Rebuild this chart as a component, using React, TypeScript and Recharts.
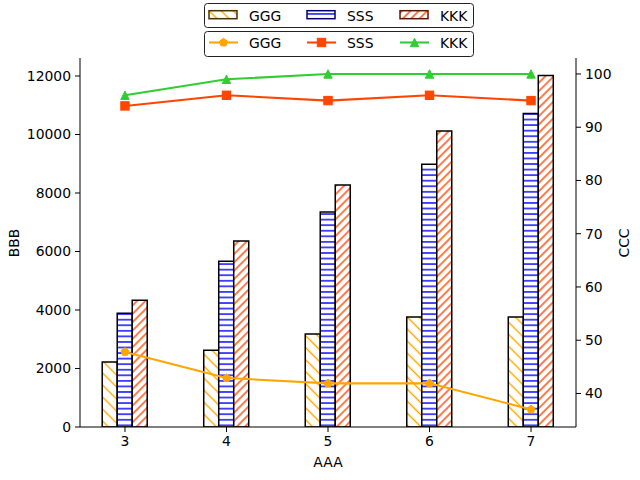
import React from "react";
import { ComposedChart, Bar, Line, XAxis, YAxis } from "recharts";

const categories = [3, 4, 5, 6, 7];
const seriesNames = ["GGG", "SSS", "KKK"];
const gggBars = [2220, 2620, 3180, 3760, 3760];
const sssBars = [3890, 5670, 7350, 8980, 10720];
const kkkBars = [4330, 6360, 8270, 10120, 12020];
const gggLine = [47.8, 42.9, 41.9, 41.9, 37.0];
const sssLine = [94, 96, 95, 96, 95];
const kkkLine = [96, 99, 100, 100, 100];
const leftTicks = [0, 2000, 4000, 6000, 8000, 10000, 12000];
const rightTicks = [40, 50, 60, 70, 80, 90, 100];

const data = categories.map((x, i) => ({
  x,
  gggBar: gggBars[i],
  sssBar: sssBars[i],
  kkkBar: kkkBars[i],
  gggLine: gggLine[i],
  sssLine: sssLine[i],
  kkkLine: kkkLine[i],
}));

const FONT = "DejaVu Sans";
const FS = 13.9;
const tickStyle = { fill: "#000", fontSize: FS, fontFamily: FONT };

const lineColors = ["#ffa500", "#ff4500", "#32cd32"];
const hatchIds = ["hatch-ggg", "hatch-sss", "hatch-kkk"];

function marker(kind: string, cx: number, cy: number, color: string, key?: any) {
  const r = 4.2;
  if (kind === "pentagon") {
    const pts = [0, 1, 2, 3, 4]
      .map((k) => {
        const a = ((-90 + 72 * k) * Math.PI) / 180;
        return `${cx + r * Math.cos(a)},${cy + r * Math.sin(a)}`;
      })
      .join(" ");
    return <polygon key={key} points={pts} fill={color} stroke={color} strokeWidth={1} />;
  }
  if (kind === "square") {
    return (
      <rect key={key} x={cx - r} y={cy - r} width={2 * r} height={2 * r} fill={color} stroke={color} strokeWidth={1} />
    );
  }
  return (
    <polygon
      key={key}
      points={`${cx},${cy - r} ${cx - r},${cy + r} ${cx + r},${cy + r}`}
      fill={color}
      stroke={color}
      strokeWidth={1}
    />
  );
}

const markerKinds = ["pentagon", "square", "triangle"];

function dotFor(i: number) {
  return (props: any) => marker(markerKinds[i], props.cx, props.cy, lineColors[i], props.index);
}

function Patterns() {
  return (
    <defs>
      <pattern id="hatch-ggg" patternUnits="userSpaceOnUse" width={8.5} height={8.5} patternTransform="rotate(45)">
        <rect width={8.5} height={8.5} fill="#fff" />
        <line x1={0} y1={4.25} x2={8.5} y2={4.25} stroke="#ffa500" strokeWidth={1.4} />
      </pattern>
      <pattern id="hatch-sss" patternUnits="userSpaceOnUse" width={10} height={5.56}>
        <rect width={10} height={5.56} fill="#fff" />
        <line x1={0} y1={2.78} x2={10} y2={2.78} stroke="#0000ff" strokeWidth={1.4} />
      </pattern>
      <pattern id="hatch-kkk" patternUnits="userSpaceOnUse" width={5.9} height={5.9} patternTransform="rotate(-45)">
        <rect width={5.9} height={5.9} fill="#fff" />
        <line x1={0} y1={2.95} x2={5.9} y2={2.95} stroke="#ff4500" strokeWidth={1.4} />
      </pattern>
    </defs>
  );
}

const legendX = [209, 307, 400];
const patchEdges = ["#4a3000", "#00006e", "#5a1800"];

function Overlay() {
  return (
    <svg
      width={640}
      height={480}
      style={{ position: "absolute", left: 0, top: 0, pointerEvents: "none" }}
      fontFamily={FONT}
      fontSize={FS}
    >
      <Patterns />
      <rect x={204.5} y={3.5} width={269} height={24} rx={3} fill="#fff" stroke="#222" strokeWidth={1} />
      <rect x={204.5} y={31.5} width={269} height={25} rx={3} fill="#fff" stroke="#222" strokeWidth={1} />
      {seriesNames.map((name, i) => (
        <g key={name}>
          <rect
            x={legendX[i]}
            y={10.7}
            width={28}
            height={8}
            fill={`url(#${hatchIds[i]})`}
            stroke={patchEdges[i]}
            strokeWidth={1.5}
          />
          <text x={legendX[i] + 40} y={15.5} dominantBaseline="central">
            {name}
          </text>
          <line x1={legendX[i]} y1={42.5} x2={legendX[i] + 29} y2={42.5} stroke={lineColors[i]} strokeWidth={2.08} />
          {marker(markerKinds[i], legendX[i] + 14.5, 42.5, lineColors[i])}
          <text x={legendX[i] + 40} y={43} dominantBaseline="central">
            {name}
          </text>
        </g>
      ))}
      <text x={328} y={462} textAnchor="middle" dominantBaseline="central">
        AAA
      </text>
      <text x={14} y={243} textAnchor="middle" dominantBaseline="central" transform="rotate(-90 14 243)">
        BBB
      </text>
      <text x={624} y={243} textAnchor="middle" dominantBaseline="central" transform="rotate(-90 624 243)">
        CCC
      </text>
    </svg>
  );
}

export default function App() {
  return (
    <div style={{ position: "absolute", left: 0, top: 0, width: 640, height: 480, background: "#fff" }}>
      <ComposedChart
        width={640}
        height={480}
        data={data}
        margin={{ top: 58, right: 0, bottom: 23, left: 20 }}
        barGap={0}
      >
        <XAxis
          dataKey="x"
          type="number"
          domain={[2.557, 7.443]}
          ticks={categories}
          allowDataOverflow
          height={30}
          tick={tickStyle}
          tickSize={5}
          tickMargin={4}
          axisLine={{ stroke: "#000" }}
          tickLine={{ stroke: "#000" }}
        />
        <XAxis
          xAxisId="top"
          orientation="top"
          type="number"
          domain={[2.557, 7.443]}
          allowDataOverflow
          height={0}
          tick={false}
          tickLine={false}
          axisLine={{ stroke: "#000" }}
        />
        <YAxis
          yAxisId="left"
          width={60}
          domain={[0, 12615]}
          ticks={leftTicks}
          allowDataOverflow
          tick={tickStyle}
          tickSize={5}
          tickMargin={4}
          axisLine={{ stroke: "#000" }}
          tickLine={{ stroke: "#000" }}
        />
        <YAxis
          yAxisId="right"
          orientation="right"
          width={64}
          domain={[33.7, 103]}
          ticks={rightTicks}
          allowDataOverflow
          tick={tickStyle}
          tickSize={5}
          tickMargin={4}
          axisLine={{ stroke: "#000" }}
          tickLine={{ stroke: "#000" }}
        />
        <Bar yAxisId="left" dataKey="gggBar" barSize={15} fill="url(#hatch-ggg)" stroke="#000" strokeWidth={1.5} isAnimationActive={false} />
        <Bar yAxisId="left" dataKey="sssBar" barSize={15} fill="url(#hatch-sss)" stroke="#000" strokeWidth={1.5} isAnimationActive={false} />
        <Bar yAxisId="left" dataKey="kkkBar" barSize={15} fill="url(#hatch-kkk)" stroke="#000" strokeWidth={1.5} isAnimationActive={false} />
        <Line yAxisId="right" dataKey="gggLine" type="linear" stroke={lineColors[0]} strokeWidth={2.08} dot={dotFor(0)} activeDot={false} isAnimationActive={false} />
        <Line yAxisId="right" dataKey="sssLine" type="linear" stroke={lineColors[1]} strokeWidth={2.08} dot={dotFor(1)} activeDot={false} isAnimationActive={false} />
        <Line yAxisId="right" dataKey="kkkLine" type="linear" stroke={lineColors[2]} strokeWidth={2.08} dot={dotFor(2)} activeDot={false} isAnimationActive={false} />
      </ComposedChart>
      <Overlay />
    </div>
  );
}
